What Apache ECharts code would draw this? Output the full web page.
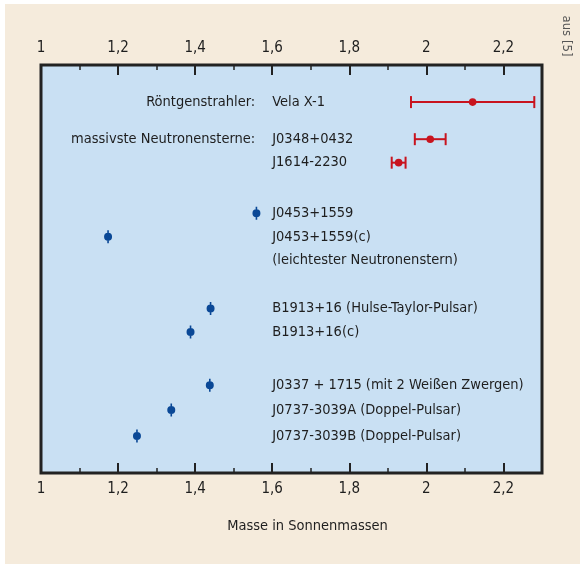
<!DOCTYPE html>
<html>
<head>
<meta charset="utf-8">
<script src="https://cdn.jsdelivr.net/npm/echarts@6/dist/echarts.min.js"></script>
<style>
  html, body { margin: 0; padding: 0; background: #ffffff; }
  #chart { width: 580px; height: 566px; }
</style>
</head>
<body>
<div id="chart"></div>
<script>
// Tick values on the mass axis
const majorTicks = [1, 1.2, 1.4, 1.6, 1.8, 2, 2.2];
const minorTicks = [1.1, 1.3, 1.5, 1.7, 1.9, 2.1];

// Heavy objects with mass uncertainty (solar masses)
const heavyNames = ['Vela X-1', 'J0348+0432', 'J1614-2230'];
const heavyMass = [2.12, 2.01, 1.928];
const heavyErr = [0.16, 0.04, 0.018];
const heavyRow = [0, 1.5, 2.45];

// Precisely measured pulsars and companions (solar masses)
const pulsarNames = [
  'J0453+1559', 'J0453+1559(c)',
  'B1913+16 (Hulse-Taylor-Pulsar)', 'B1913+16(c)',
  'J0337 + 1715 (mit 2 Weißen Zwergen)', 'J0737-3039A (Doppel-Pulsar)', 'J0737-3039B (Doppel-Pulsar)'
];
const pulsarMass = [1.559, 1.174, 1.440, 1.388, 1.438, 1.338, 1.249];
const pulsarRow = [4.5, 5.45, 8.35, 9.3, 11.45, 12.45, 13.5];

// Extra text lines without a mark
const noteNames = ['(leichtester Neutronenstern)'];
const noteRow = [6.4];

// Group captions in front of the name column
const groupNames = ['Röntgenstrahler:', 'massivste Neutronensterne:'];
const groupRow = [0, 1.5];

const labelColumn = 1.6;

const FONT = "'DejaVu Sans Condensed', 'Liberation Sans Narrow', 'Noto Sans', sans-serif";
const TEXT = '#1e1e1e';
const RED = '#c8141e';
const BLUE = '#0a4896';
const FS = 14.5;

const fmt = v => String(v).replace('.', ',');

const chart = echarts.init(document.getElementById('chart'), null, { renderer: 'canvas' });

function massAxis(pos, major) {
  return {
    type: 'value', position: pos, min: 1, max: 2.3,
    axisLine: { show: false, onZero: false },
    splitLine: { show: false },
    axisTick: {
      show: true, inside: true, length: major ? 10 : 5,
      customValues: major ? majorTicks : minorTicks,
      lineStyle: { color: '#222', width: major ? 2 : 1.5 }
    },
    axisLabel: {
      show: major, customValues: majorTicks, formatter: fmt,
      margin: 9, fontSize: 15, color: TEXT, fontFamily: FONT
    }
  };
}

const bottomMajor = massAxis('bottom', true);
bottomMajor.name = 'Masse in Sonnenmassen';
bottomMajor.nameLocation = 'middle';
bottomMajor.nameGap = 46;
bottomMajor.nameTextStyle = { fontSize: FS, color: TEXT, fontFamily: FONT, padding: [0, 0, 0, 32] };

const textLabel = (pos, dist) => ({
  show: true, position: pos, distance: dist, formatter: p => p.data[2],
  fontSize: FS, color: TEXT, fontFamily: FONT, opacity: 1
});

chart.setOption({
  animation: false,
  textStyle: { fontFamily: FONT },
  graphic: [
    { type: 'rect', z: -10, shape: { x: 5, y: 4, width: 575, height: 560 }, style: { fill: '#f5ebdc' } },
    { type: 'text', x: 566, y: 36, rotation: -Math.PI / 2,
      style: { text: 'aus [5]', fill: '#555', fontSize: 13, fontFamily: FONT, align: 'center', verticalAlign: 'middle' } }
  ],
  grid: {
    left: 41, right: 38, top: 65, bottom: 93,
    show: true, backgroundColor: '#c9e0f3', borderColor: '#222', borderWidth: 3
  },
  xAxis: [
    bottomMajor,
    massAxis('bottom', false),
    massAxis('top', true),
    massAxis('top', false)
  ],
  yAxis: {
    type: 'value', min: -1.5, max: 15, inverse: true, show: false
  },
  series: [
    {
      type: 'custom', xAxisIndex: 0, z: 5,
      data: heavyMass.map((m, i) => [m, m - heavyErr[i], m + heavyErr[i], heavyRow[i]]),
      renderItem(params, api) {
        const row = api.value(3);
        const c = api.coord([api.value(0), row]);
        const lo = api.coord([api.value(1), row]);
        const hi = api.coord([api.value(2), row]);
        const cap = 6;
        const ls = { stroke: RED, lineWidth: 2 };
        return {
          type: 'group',
          children: [
            { type: 'line', shape: { x1: lo[0], y1: c[1], x2: hi[0], y2: c[1] }, style: ls },
            { type: 'line', shape: { x1: lo[0], y1: c[1] - cap, x2: lo[0], y2: c[1] + cap }, style: ls },
            { type: 'line', shape: { x1: hi[0], y1: c[1] - cap, x2: hi[0], y2: c[1] + cap }, style: ls },
            { type: 'circle', shape: { cx: c[0], cy: c[1], r: 3.8 }, style: { fill: RED } }
          ]
        };
      }
    },
    {
      type: 'scatter', xAxisIndex: 0, z: 5,
      symbol: 'path://M0,-4A4,4 0 1,1 0,4A4,4 0 1,1 0,-4Z M-0.8,-6.5L0.8,-6.5L0.8,6.5L-0.8,6.5Z',
      symbolSize: [8, 13],
      itemStyle: { color: BLUE, opacity: 1 },
      data: pulsarMass.map((m, i) => [m, pulsarRow[i]])
    },
    {
      type: 'scatter', xAxisIndex: 0, symbolSize: 0, silent: true,
      itemStyle: { opacity: 1 },
      label: textLabel('right', 0),
      data: heavyNames.map((n, i) => [labelColumn, heavyRow[i], n])
        .concat(pulsarNames.map((n, i) => [labelColumn, pulsarRow[i], n]))
        .concat(noteNames.map((n, i) => [labelColumn, noteRow[i], n]))
    },
    {
      type: 'scatter', xAxisIndex: 0, symbolSize: 0, silent: true,
      itemStyle: { opacity: 1 },
      label: textLabel('left', 17),
      data: groupNames.map((n, i) => [labelColumn, groupRow[i], n])
    }
  ]
});
</script>
</body>
</html>
